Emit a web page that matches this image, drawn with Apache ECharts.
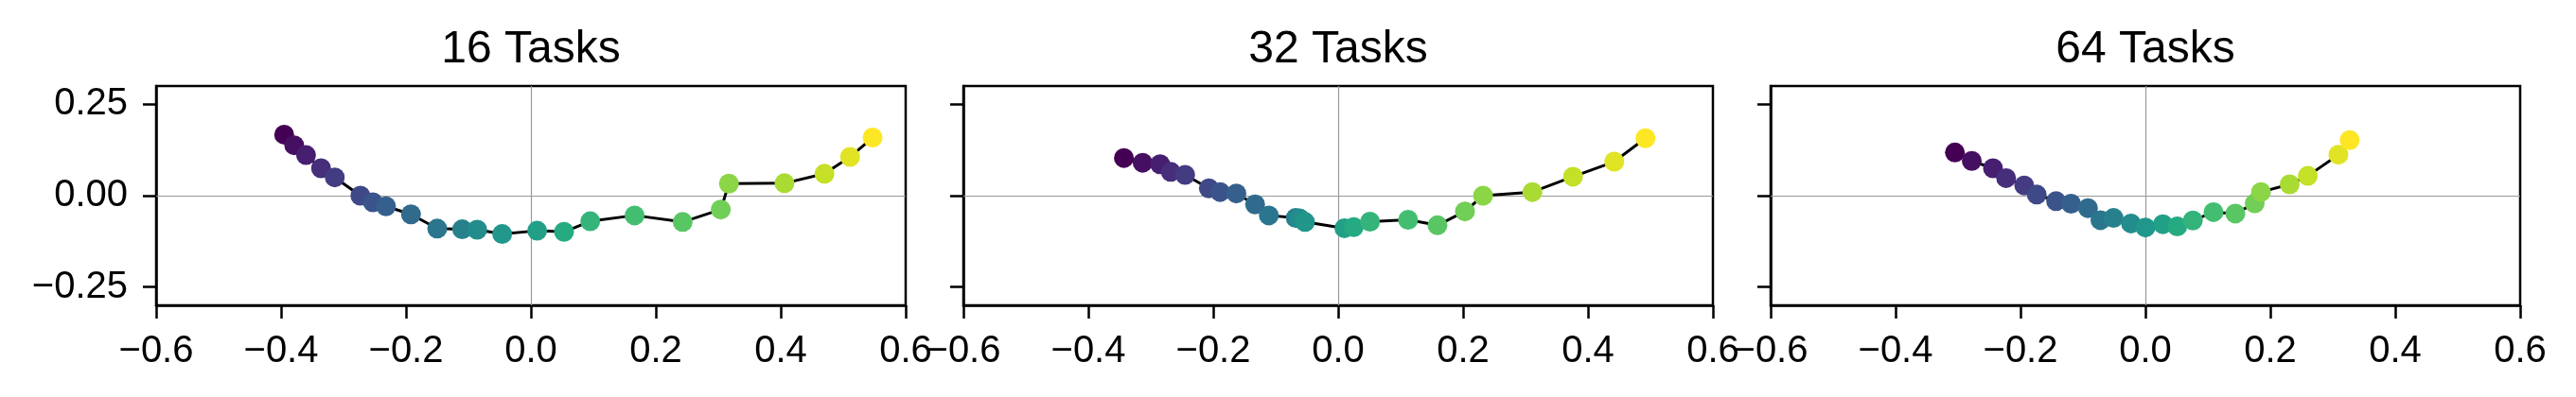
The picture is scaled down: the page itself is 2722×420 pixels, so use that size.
<!DOCTYPE html>
<html>
<head>
<meta charset="utf-8">
<script src="https://cdn.jsdelivr.net/npm/echarts@6/dist/echarts.min.js"></script>
<style>html,body{margin:0;padding:0;background:#fff;}#c{width:2722px;height:420px;}</style>
</head>
<body>
<div id="c"></div>
<script>
// ---- data ----
const panelTitles = ['16 Tasks', '32 Tasks', '64 Tasks'];
const xs16 = [-0.395,-0.379,-0.360,-0.336,-0.314,-0.273,-0.253,-0.232,-0.192,-0.150,-0.110,-0.086,-0.046,0.010,0.053,0.095,0.166,0.243,0.304,0.317,0.406,0.470,0.511,0.547];
const ys16 = [0.167,0.138,0.111,0.075,0.050,0.000,-0.018,-0.029,-0.051,-0.090,-0.092,-0.093,-0.105,-0.096,-0.099,-0.070,-0.054,-0.072,-0.038,0.033,0.034,0.060,0.106,0.159];
const xs32 = [-0.343,-0.313,-0.285,-0.268,-0.245,-0.207,-0.189,-0.163,-0.133,-0.111,-0.068,-0.062,-0.053,0.010,0.025,0.051,0.112,0.159,0.203,0.232,0.311,0.376,0.442,0.492];
const ys32 = [0.103,0.090,0.086,0.065,0.057,0.020,0.010,0.006,-0.024,-0.054,-0.061,-0.062,-0.072,-0.089,-0.086,-0.071,-0.066,-0.081,-0.043,0.000,0.010,0.052,0.093,0.157];
const xs64 = [-0.305,-0.278,-0.244,-0.223,-0.194,-0.174,-0.143,-0.119,-0.092,-0.072,-0.051,-0.023,0.000,0.028,0.051,0.076,0.109,0.144,0.175,0.185,0.231,0.260,0.309,0.327];
const ys64 = [0.118,0.095,0.075,0.048,0.028,0.003,-0.015,-0.022,-0.034,-0.067,-0.061,-0.076,-0.087,-0.078,-0.084,-0.068,-0.045,-0.049,-0.021,0.010,0.031,0.054,0.112,0.152];
const xTicks = [-0.6,-0.4,-0.2,0.0,0.2,0.4,0.6];
const yTicks = [-0.25,0.0,0.25];

const panelsX = [xs16, xs32, xs64];
const panelsY = [ys16, ys32, ys64];

// viridis colormap stops
const viridis = ['#440154','#482475','#414487','#355f8d','#2a788e','#21918c','#22a884','#44bf70','#7ad151','#bddf26','#fde725'];
function hex2rgb(h){return [parseInt(h.slice(1,3),16),parseInt(h.slice(3,5),16),parseInt(h.slice(5,7),16)];}
function cmap(t){
  const p = t*(viridis.length-1); const i = Math.min(Math.floor(p), viridis.length-2); const f = p-i;
  const a = hex2rgb(viridis[i]), b = hex2rgb(viridis[i+1]);
  return 'rgb(' + a.map((v,k)=>Math.round(v+(b[k]-v)*f)).join(',') + ')';
}

const FONT = 'Liberation Sans, Arial, sans-serif';
const lefts = [165, 1018, 1871];
const W = 792, TOP = 91, H = 232;
const fmt = (d) => v => v.toFixed(d).replace('-', '\u2212');

const grids = [], xAxes = [], yAxes = [], series = [], titles = [];
for (let p = 0; p < 3; p++) {
  grids.push({left: lefts[p], top: TOP, width: W, height: H, show: true, borderColor: '#000', borderWidth: 2.5, backgroundColor: 'transparent'});
  titles.push({text: panelTitles[p], left: lefts[p] + W/2, top: 29, textAlign: 'center', padding: 0,
    textStyle: {fontFamily: FONT, fontSize: 48, fontWeight: 'normal', color: '#000'}});
  xAxes.push({type: 'value', gridIndex: p, min: -0.6, max: 0.6, interval: 0.2,
    axisLine: {show: true, onZero: false, lineStyle: {color: '#000', width: 2.5}},
    axisTick: {show: true, length: 14, lineStyle: {color: '#000', width: 2.5}, customValues: xTicks},
    axisLabel: {show: true, margin: 29, fontFamily: FONT, fontSize: 40, color: '#000', customValues: xTicks, formatter: fmt(1)},
    splitLine: {show: false}});
  yAxes.push({type: 'value', gridIndex: p, min: -0.3, max: 0.3,
    axisLine: {show: true, onZero: false, lineStyle: {color: '#000', width: 2.5}},
    axisTick: {show: true, length: 14, lineStyle: {color: '#000', width: 2.5}, customValues: yTicks},
    axisLabel: {show: p === 0, margin: 30, fontFamily: FONT, fontSize: 40, color: '#000', customValues: yTicks, formatter: fmt(2)},
    splitLine: {show: false}});
  const xs = panelsX[p], ys = panelsY[p];
  const pts = xs.map((x, i) => [x, ys[i]]);
  series.push({type: 'line', xAxisIndex: p, yAxisIndex: p, data: pts, symbol: 'none', z: 3, silent: true,
    lineStyle: {color: '#000', width: 3}, animation: false,
    markLine: {z: 1, silent: true, symbol: 'none', animation: false, label: {show: false},
      lineStyle: {color: '#999999', width: 1.2, type: 'solid'},
      data: [{xAxis: 0}, {yAxis: 0}]}});
  series.push({type: 'scatter', xAxisIndex: p, yAxisIndex: p, z: 4, symbol: 'circle', symbolSize: 21, animation: false,
    data: pts.map((pt, i) => ({value: pt, itemStyle: {color: cmap(i/(pts.length-1)), opacity: 1}}))});
}

const chart = echarts.init(document.getElementById('c'), null, {renderer: 'canvas'});
chart.setOption({backgroundColor: '#fff', animation: false, title: titles, grid: grids, xAxis: xAxes, yAxis: yAxes, series: series});
</script>
</body>
</html>
